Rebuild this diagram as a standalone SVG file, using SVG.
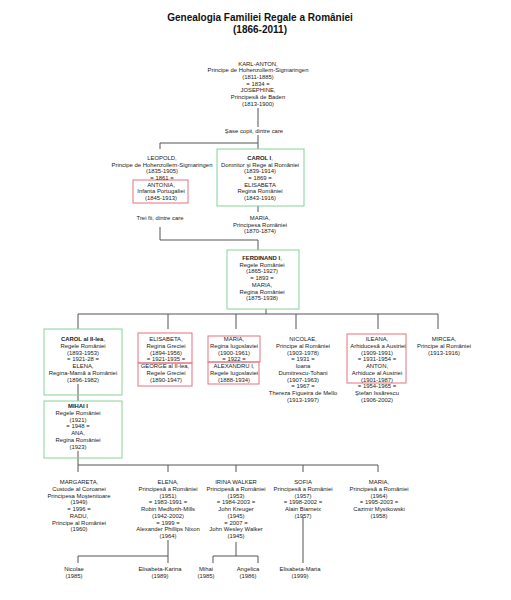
<svg xmlns="http://www.w3.org/2000/svg" width="511" height="600" viewBox="0 0 511 600">
<style>
text{font-family:"Liberation Sans",Arial,sans-serif;font-size:5.9px;fill:#222;text-anchor:middle}
.t{font-size:10px;font-weight:bold;fill:#111}
.b{font-weight:bold}
.g{fill:none;stroke:#86d39a;stroke-width:1}
.r{fill:none;stroke:#e8737d;stroke-width:1}
#conn line,#conn path{stroke:#555;stroke-width:1;fill:none}
</style>
<rect width="511" height="600" fill="#fff"/>
<g id="title">
<text class="t" x="260" y="21">Genealogia Familiei Regale a României</text>
<text class="t" x="260" y="33">(1866-2011)</text>
</g>
<g id="conn">
<line x1="258" y1="108" x2="258" y2="127"/>
<path d="M258 135V143H160V149"/>
<line x1="258" y1="143" x2="258" y2="149"/>
<line x1="258" y1="206" x2="258" y2="212"/>
<path d="M160 227V240H258V250"/>
<path d="M266 309V314"/>
<path d="M78 329V314H438V329"/>
<line x1="168" y1="314" x2="168" y2="329"/>
<line x1="236" y1="314" x2="236" y2="329"/>
<line x1="296" y1="314" x2="296" y2="329"/>
<line x1="378" y1="314" x2="378" y2="329"/>
<line x1="78" y1="384" x2="78" y2="401"/>
<path d="M78 451V472M78 465H378V472"/>
<line x1="168" y1="465" x2="168" y2="472"/>
<line x1="236" y1="465" x2="236" y2="472"/>
<line x1="303" y1="465" x2="303" y2="472"/>
<path d="M168 540V563M168 556H78V563"/>
<path d="M236 542V556M213 563V556H258V563"/>
<line x1="303" y1="517" x2="303" y2="563"/>
</g>
<g id="karl-anton">
<text x="258" y="65.5">KARL-ANTON,</text>
<text x="258" y="72.2">Principe de Hohenzollern-Sigmaringen</text>
<text x="258" y="78.9">(1811-1885)</text>
<text x="258" y="85.6">= 1834 =</text>
<text x="258" y="92.3">JOSEPHINE,</text>
<text x="258" y="99">Principesă de Baden</text>
<text x="258" y="105.7">(1813-1900)</text>
</g>
<g id="label-sase"><text x="254" y="133">Şase copii, dintre care</text></g>
<g id="leopold">
<rect class="r" x="133" y="180" width="55" height="23"/>
<text x="162" y="160">LEOPOLD,</text>
<text x="162" y="166.7">Principe de Hohenzollern-Sigmaringen</text>
<text x="162" y="173.4">(1835-1905)</text>
<text x="162" y="180">= 1861 =</text>
<text x="161" y="186.7">ANTONIA,</text>
<text x="161" y="193.4">Infanta Portugaliei</text>
<text x="161" y="200.1">(1845-1913)</text>
</g>
<g id="carol1">
<rect class="g" x="217" y="149" width="87" height="57"/>
<text x="260" y="160"><tspan class="b">CAROL I</tspan>,</text>
<text x="260" y="166.7">Domnitor şi Rege al României</text>
<text x="260" y="173.4">(1839-1914)</text>
<text x="260" y="180">= 1869 =</text>
<text x="260" y="186.7">ELISABETA</text>
<text x="260" y="193.4">Regina României</text>
<text x="260" y="200.1">(1843-1916)</text>
</g>
<g id="label-trei"><text x="160" y="220">Trei fii, dintre care</text></g>
<g id="maria-1870">
<text x="260" y="220">MARIA,</text>
<text x="260" y="226.7">Principesa României</text>
<text x="260" y="233.4">(1870-1874)</text>
</g>
<g id="ferdinand">
<rect class="g" x="227" y="250" width="72" height="59"/>
<text x="262" y="260"><tspan class="b">FERDINAND I</tspan>,</text>
<text x="262" y="266.7">Regele României</text>
<text x="262" y="273.4">(1865-1927)</text>
<text x="262" y="280.1">= 1893 =</text>
<text x="262" y="286.8">MARIA,</text>
<text x="262" y="293.5">Regina României</text>
<text x="262" y="300.2">(1875-1938)</text>
</g>
<g id="carol2">
<rect class="g" x="44" y="329" width="78" height="66"/>
<text x="83" y="341"><tspan class="b">CAROL al II-lea</tspan>,</text>
<text x="83" y="347.75">Regele României</text>
<text x="83" y="354.5">(1893-1953)</text>
<text x="83" y="361.25">= 1921-28 =</text>
<text x="83" y="368">ELENA,</text>
<text x="83" y="374.75">Regina-Mamă a României</text>
<text x="83" y="381.5">(1896-1982)</text>
</g>
<g id="elisabeta">
<rect class="r" x="138" y="333" width="54" height="30"/>
<rect class="r" x="138" y="363" width="54" height="23"/>
<text x="166" y="341">ELISABETA,</text>
<text x="166" y="347.75">Regina Greciei</text>
<text x="166" y="354.5">(1894-1956)</text>
<text x="166" y="361.25">= 1921-1935 =</text>
<text x="165" y="368">GEORGE al II-lea,</text>
<text x="166" y="374.75">Regele Greciei</text>
<text x="166" y="381.5">(1890-1947)</text>
</g>
<g id="maria-1900">
<rect class="r" x="208" y="336" width="52" height="26"/>
<rect class="r" x="208" y="362" width="51" height="22"/>
<text x="234" y="341">MARIA,</text>
<text x="234" y="347.75">Regina Iugoslaviei</text>
<text x="234" y="354.5">(1900-1961)</text>
<text x="234" y="361.25">= 1922 =</text>
<text x="234" y="368">ALEXANDRU I,</text>
<text x="234" y="374.75">Regele Iugoslaviei</text>
<text x="234" y="381.5">(1888-1934)</text>
</g>
<g id="nicolae">
<text x="303" y="341">NICOLAE,</text>
<text x="303" y="347.75">Principe al României</text>
<text x="303" y="354.5">(1903-1978)</text>
<text x="303" y="361.25">= 1931 =</text>
<text x="303" y="368">Ioana</text>
<text x="303" y="374.75">Dumitrescu-Tohani</text>
<text x="303" y="381.5">(1907-1963)</text>
<text x="303" y="388.25">= 1967 =</text>
<text x="303" y="395">Thereza Figueira de Mello</text>
<text x="303" y="401.75">(1913-1997)</text>
</g>
<g id="ileana">
<rect class="r" x="347" y="334" width="59" height="49"/>
<text x="377" y="341">ILEANA,</text>
<text x="378" y="347.75">Arhiducesă a Austriei</text>
<text x="377" y="354.5">(1909-1991)</text>
<text x="377" y="361.25">= 1931-1954 =</text>
<text x="377" y="368">ANTON,</text>
<text x="377" y="374.75">Arhiduce al Austriei</text>
<text x="377" y="381.5">(1901-1987)</text>
<text x="377" y="388.25">= 1954-1965 =</text>
<text x="377" y="395">Ştefan Issărescu</text>
<text x="377" y="401.75">(1906-2002)</text>
</g>
<g id="mircea">
<text x="444" y="341">MIRCEA,</text>
<text x="444" y="347.75">Principe al României</text>
<text x="444" y="354.5">(1913-1916)</text>
</g>
<g id="mihai">
<rect class="g" x="44" y="401" width="78" height="57"/>
<text x="78" y="408"><tspan class="b">MIHAI I</tspan></text>
<text x="78" y="414.75">Regele României</text>
<text x="78" y="421.5">(1921)</text>
<text x="78" y="428.25">= 1948 =</text>
<text x="78" y="435">ANA,</text>
<text x="78" y="441.75">Regina României</text>
<text x="78" y="448.5">(1923)</text>
</g>
<g id="margareta">
<text x="79" y="484">MARGARETA,</text>
<text x="79" y="490.75">Custode al Coroanei</text>
<text x="79" y="497.5">Principesa Moştenitoare</text>
<text x="79" y="504.25">(1949)</text>
<text x="79" y="511">= 1996 =</text>
<text x="79" y="517.75">RADU,</text>
<text x="79" y="524.5">Principe al României</text>
<text x="79" y="531.25">(1960)</text>
</g>
<g id="elena">
<text x="168" y="484">ELENA,</text>
<text x="168" y="490.75">Principesă a României</text>
<text x="168" y="497.5">(1951)</text>
<text x="168" y="504.25">= 1983-1991 =</text>
<text x="168" y="511">Robin Medforth-Mills</text>
<text x="168" y="517.75">(1942-2002)</text>
<text x="168" y="524.5">= 1999 =</text>
<text x="168" y="531.25">Alexander Phillips Nixon</text>
<text x="168" y="538">(1964)</text>
</g>
<g id="irina">
<text x="236" y="484">IRINA WALKER</text>
<text x="236" y="490.75">Principesă a României</text>
<text x="236" y="497.5">(1953)</text>
<text x="236" y="504.25">= 1984-2003 =</text>
<text x="236" y="511">John Kreuger</text>
<text x="236" y="517.75">(1945)</text>
<text x="236" y="524.5">= 2007 =</text>
<text x="236" y="531.25">John Wesley Walker</text>
<text x="236" y="538">(1945)</text>
</g>
<g id="sofia">
<text x="303" y="484">SOFIA</text>
<text x="303" y="490.75">Principesă a României</text>
<text x="303" y="497.5">(1957)</text>
<text x="303" y="504.25">= 1998-2002 =</text>
<text x="303" y="511">Alain Biarneix</text>
<text x="303" y="517.75">(1957)</text>
</g>
<g id="maria-1964">
<text x="379" y="484">MARIA,</text>
<text x="379" y="490.75">Principesă a României</text>
<text x="379" y="497.5">(1964)</text>
<text x="379" y="504.25">= 1995-2003 =</text>
<text x="379" y="511">Cazimir Mystkowski</text>
<text x="379" y="517.75">(1958)</text>
</g>
<g id="nicolae-1985">
<text x="74" y="571">Nicolae</text>
<text x="74" y="578">(1985)</text>
</g>
<g id="elisabeta-karina">
<text x="160" y="571">Elisabeta-Karina</text>
<text x="160" y="578">(1989)</text>
</g>
<g id="mihai-1985">
<text x="206" y="571">Mihai</text>
<text x="206" y="578">(1985)</text>
</g>
<g id="angelica">
<text x="248" y="571">Angelica</text>
<text x="248" y="578">(1986)</text>
</g>
<g id="elisabeta-maria">
<text x="300" y="571">Elisabeta-Maria</text>
<text x="300" y="578">(1999)</text>
</g>
</svg>
